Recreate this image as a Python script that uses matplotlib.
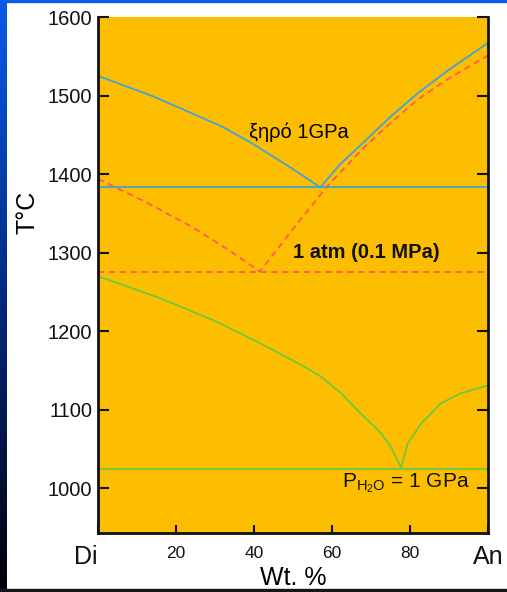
import numpy as np
import matplotlib
matplotlib.use("Agg")
import matplotlib.pyplot as plt
from matplotlib.patches import Rectangle
from matplotlib.colors import LinearSegmentedColormap

plt.rcParams['font.family'] = ['Liberation Sans', 'DejaVu Sans']
plt.rcParams['mathtext.fontset'] = 'custom'
plt.rcParams['mathtext.rm'] = 'Liberation Sans'
plt.rcParams['mathtext.it'] = 'Liberation Sans'

# ---- data (Wt.% An, T in °C) ----
dry_x = [0, 13.6, 23.8, 32, 39.2, 49.5, 57, 62, 68, 75, 82, 90, 100]
dry_T = [1525, 1500, 1478, 1460, 1440, 1408, 1383, 1412, 1440, 1473, 1503, 1533, 1567]
dry_eutectic = 1383

atm_x = [0, 12, 24, 33, 41.5, 50, 58.5, 68, 75, 82, 90, 100]
atm_T = [1394, 1365, 1333, 1305, 1276, 1330, 1383, 1433, 1465, 1495, 1522, 1551]
atm_eutectic = 1275

wet_x = [0, 15.4, 30, 41, 52.1, 57.2, 62.3, 67.4, 72.6, 75.1, 77.7,
         79.4, 82.8, 87.9, 93.1, 100]
wet_T = [1270, 1243, 1213, 1186, 1157, 1142, 1121, 1095, 1070, 1053, 1026,
         1057, 1082, 1108, 1121, 1131]
wet_eutectic = 1025

x_ticks = [0, 20, 40, 60, 80, 100]
x_labels = ['Di', '20', '40', '60', '80', 'An']
y_ticks = [1000, 1100, 1200, 1300, 1400, 1500, 1600]

ORANGE = '#FDBE00'
BLUE = '#3DA5D9'
RED = '#FF5A55'
GREEN = '#6CC840'

fig = plt.figure(figsize=(5.07, 5.92), dpi=100)
fig.patch.set_facecolor('white')

# frame decorations: left gradient strip, top blue line, bottom dark line
grad_ax = fig.add_axes([0, 0, 7/507, 1])
grad = np.linspace(0, 1, 256).reshape(-1, 1)
cmap = LinearSegmentedColormap.from_list('bg', ['#000008', '#032a80', '#0a5be8'])
grad_ax.imshow(grad, aspect='auto', cmap=cmap, origin='lower')
grad_ax.axis('off')
fig.patches.append(Rectangle((0, 1 - 2/592), 1, 2/592, transform=fig.transFigure,
                             color='#0a5be8', zorder=0))
fig.patches.append(Rectangle((0, 0), 1, 3/592, transform=fig.transFigure,
                             color='#15151a', zorder=0))

ax = fig.add_axes([98/507, 59/592, 390/507, 516/592])
ax.set_facecolor(ORANGE)

ax.plot(dry_x, dry_T, color=BLUE, lw=1.3)
ax.axhline(dry_eutectic, color=BLUE, lw=1.3)

ax.plot(atm_x, atm_T, color=RED, lw=1.3, linestyle=(0, (3.5, 2.5)))
ax.axhline(atm_eutectic, color=RED, lw=1.3, linestyle=(0, (3.5, 2.5)))

ax.plot(wet_x, wet_T, color=GREEN, lw=1.3)
ax.axhline(wet_eutectic, color=GREEN, lw=1.3)

ax.text(51.5, 1453, 'ξηρό 1GPa', fontsize=14.5, ha='center', va='center', color='black')
ax.text(68.7, 1300, '1 atm (0.1 MPa)', fontsize=14.5, fontweight='bold',
        ha='center', va='center', color='#111111')
ax.text(79, 1006, r'P$_{\mathregular{H_2O}}$ = 1 GPa', fontsize=15,
        ha='center', va='center', color='#111111')

ax.set_xlim(0, 100)
ax.set_ylim(943, 1600)
ax.set_xticks(x_ticks)
ax.set_xticklabels(x_labels)
ax.set_yticks(y_ticks)

for s in ['left', 'bottom', 'right']:
    ax.spines[s].set_linewidth(2)
    ax.spines[s].set_color('#111111')
ax.spines['top'].set_visible(False)

ax.tick_params(axis='y', direction='in', length=8, width=1.5, left=True, right=True,
               labelsize=14.5, pad=4, colors='#111111')
ax.tick_params(axis='x', direction='in', length=6, width=1.5, labelsize=12.5, pad=9,
               colors='#111111')
xl = ax.get_xticklabels()
for i in (0, len(xl) - 1):
    xl[i].set_fontsize(18)
xl[0].set_horizontalalignment('right')

ax.set_ylabel('T°C', fontsize=18)
ax.yaxis.set_label_coords(-0.182, 0.622)
ax.yaxis.label.set_verticalalignment('center')
ax.set_xlabel('Wt. %', fontsize=18)
ax.xaxis.set_label_coords(0.5, -0.087)
ax.xaxis.label.set_verticalalignment('center')

fig.savefig('out.png', dpi=100)
